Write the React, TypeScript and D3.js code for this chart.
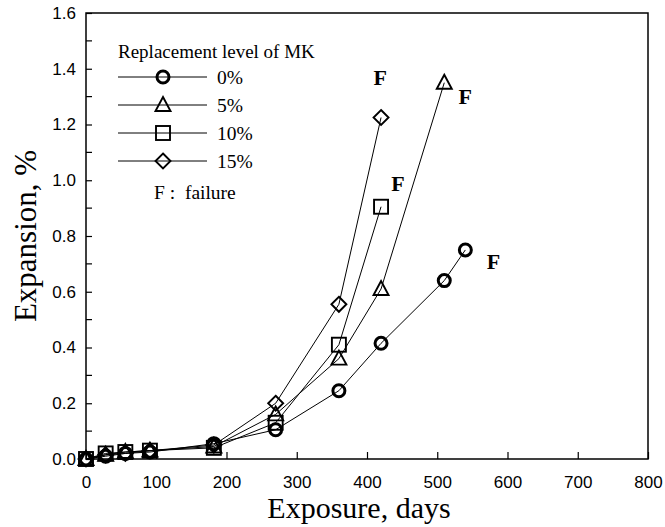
import React, { useEffect, useRef } from 'react';
import * as d3 from 'd3';

// Exposure days at each reading
const days0 = [0, 28, 56, 91, 182, 270, 360, 420, 510, 540];
const days5 = [0, 28, 56, 91, 182, 270, 360, 420, 510];
const days10 = [0, 28, 56, 91, 182, 270, 360, 420];
const days15 = [0, 28, 56, 91, 182, 270, 360, 420];

// Expansion (%) per MK replacement level
const mk0 = [0.0, 0.01, 0.02, 0.025, 0.055, 0.105, 0.245, 0.415, 0.64, 0.75];
const mk5 = [0.0, 0.015, 0.025, 0.03, 0.045, 0.16, 0.36, 0.61, 1.35];
const mk10 = [0.0, 0.02, 0.025, 0.03, 0.04, 0.13, 0.41, 0.905];
const mk15 = [0.0, 0.015, 0.02, 0.03, 0.05, 0.2, 0.555, 1.225];

const seriesLabels = ['0%', '5%', '10%', '15%'];
const seriesSymbols = ['circle', 'triangle', 'square', 'diamond'];

// "F" failure markers (day, expansion)
const failX = [580, 419, 444, 540];
const failY = [0.71, 1.37, 0.99, 1.3];

const xTicks = [0, 100, 200, 300, 400, 500, 600, 700, 800];
const yTicks = [0, 0.2, 0.4, 0.6, 0.8, 1.0, 1.2, 1.4, 1.6];

export default function App() {
  const svgRef = useRef<SVGSVGElement>(null);

  useEffect(() => {
    const W = 665, H = 527;
    const margin = { top: 13, right: 17, bottom: 68, left: 86 };
    const width = W - margin.left - margin.right;
    const height = H - margin.top - margin.bottom;

    d3.select(svgRef.current).selectAll('*').remove();
    const svg = d3.select(svgRef.current)
      .attr('width', W)
      .attr('height', H)
      .style('font-family', '"Liberation Serif", "Times New Roman", serif');

    const g = svg.append('g').attr('transform', `translate(${margin.left}, ${margin.top})`);

    const x = d3.scaleLinear().domain([0, 800]).range([0, width]);
    const y = d3.scaleLinear().domain([0, 1.6]).range([height, 0]);

    // frame
    g.append('rect')
      .attr('width', width).attr('height', height)
      .attr('fill', 'none').attr('stroke', '#000').attr('stroke-width', 1.5);

    // x axis, ticks pointing inward
    const xAxis = g.append('g')
      .attr('transform', `translate(0, ${height})`)
      .call(d3.axisBottom(x).tickValues(xTicks).tickSizeInner(-7).tickSizeOuter(0).tickPadding(17).tickFormat(d3.format('d')));
    xAxis.select('.domain').remove();
    xAxis.selectAll('line').attr('stroke-width', 1.2);
    xAxis.selectAll('text').style('font-size', '17px').style('font-family', 'inherit').attr('fill', '#000');

    // y axis, major + minor inward ticks
    const yAxis = g.append('g')
      .call(d3.axisLeft(y).tickValues(yTicks).tickSizeInner(-6).tickSizeOuter(0).tickPadding(10).tickFormat(d3.format('.1f')));
    yAxis.select('.domain').remove();
    yAxis.selectAll('line').attr('stroke-width', 1.2);
    yAxis.selectAll('text').style('font-size', '17px').style('font-family', 'inherit').attr('fill', '#000');

    g.append('g')
      .selectAll('line')
      .data(d3.range(0.1, 1.6, 0.2))
      .enter()
      .append('line')
      .attr('x1', 0).attr('x2', 6)
      .attr('y1', d => y(d)).attr('y2', d => y(d))
      .attr('stroke', '#000').attr('stroke-width', 1.2);

    // axis titles
    svg.append('text')
      .attr('x', 359)
      .attr('y', 518)
      .attr('text-anchor', 'middle')
      .style('font-size', '30px')
      .text('Exposure, days');

    svg.append('text')
      .attr('transform', `translate(36, 236) rotate(-90)`)
      .attr('text-anchor', 'middle')
      .style('font-size', '31px')
      .text('Expansion, %');

    const allSeries = [
      days0.map((d, i) => [d, mk0[i]]),
      days5.map((d, i) => [d, mk5[i]]),
      days10.map((d, i) => [d, mk10[i]]),
      days15.map((d, i) => [d, mk15[i]]),
    ];

    const drawSymbol = (sel: any, kind: string, cx: number, cy: number) => {
      if (kind === 'circle') {
        sel.append('circle').attr('cx', cx).attr('cy', cy).attr('r', 6)
          .attr('fill', 'none').attr('stroke', '#000').attr('stroke-width', 3);
      } else if (kind === 'triangle') {
        sel.append('path')
          .attr('d', `M${cx},${cy - 8}L${cx + 7.5},${cy + 6}L${cx - 7.5},${cy + 6}Z`)
          .attr('fill', 'none').attr('stroke', '#000').attr('stroke-width', 1.9);
      } else if (kind === 'square') {
        sel.append('rect').attr('x', cx - 7).attr('y', cy - 7).attr('width', 14).attr('height', 14)
          .attr('fill', 'none').attr('stroke', '#000').attr('stroke-width', 1.9);
      } else {
        sel.append('path')
          .attr('d', `M${cx},${cy - 7.5}L${cx + 7.5},${cy}L${cx},${cy + 7.5}L${cx - 7.5},${cy}Z`)
          .attr('fill', 'none').attr('stroke', '#000').attr('stroke-width', 1.9);
      }
    };

    const line = d3.line<number[]>().x(d => x(d[0])).y(d => y(d[1]));

    allSeries.forEach((pts, si) => {
      g.append('path')
        .datum(pts)
        .attr('fill', 'none')
        .attr('stroke', '#000')
        .attr('stroke-width', 1)
        .attr('d', line);
      const mg = g.append('g');
      pts.forEach(p => drawSymbol(mg, seriesSymbols[si], x(p[0]), y(p[1])));
    });

    // failure labels
    g.append('g')
      .selectAll('text')
      .data(failX)
      .enter()
      .append('text')
      .attr('x', (d, i) => x(d))
      .attr('y', (d, i) => y(failY[i]))
      .attr('text-anchor', 'middle')
      .attr('dy', '0.35em')
      .style('font-size', '22px')
      .style('font-weight', 'bold')
      .text('F');

    // legend
    const lg = svg.append('g');
    lg.append('text')
      .attr('x', 118).attr('y', 58)
      .style('font-size', '19px')
      .text('Replacement level of MK');

    seriesLabels.forEach((lab, i) => {
      const ly = 77 + i * 28;
      lg.append('line')
        .attr('x1', 118).attr('x2', 207)
        .attr('y1', ly).attr('y2', ly)
        .attr('stroke', '#000').attr('stroke-width', 1);
      drawSymbol(lg, seriesSymbols[i], 163, ly);
      lg.append('text')
        .attr('x', 217).attr('y', ly)
        .attr('dy', '0.35em')
        .style('font-size', '19.5px')
        .text(lab);
    });

    lg.append('text')
      .attr('x', 154).attr('y', 192)
      .attr('dy', '0.35em')
      .style('font-size', '19.5px')
      .style('white-space', 'pre')
      .text('F :  failure');
  }, []);

  return <svg ref={svgRef} style={{ display: 'block', position: 'absolute', left: 0, top: 0 }}></svg>;
}
